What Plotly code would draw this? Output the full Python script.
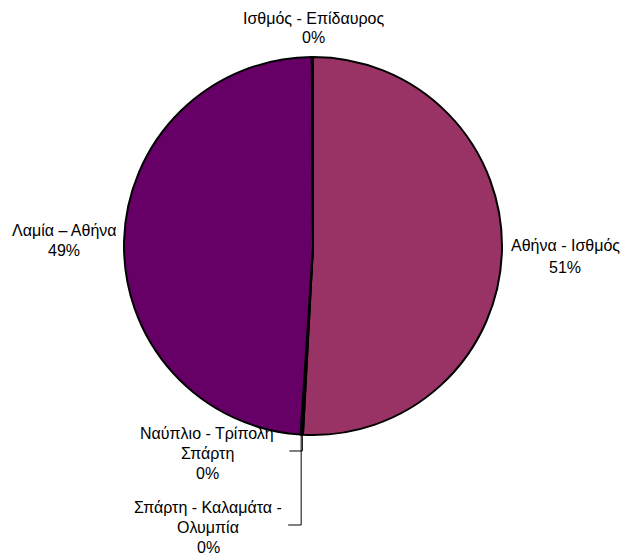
import math
import plotly.graph_objects as go

# ---- data ----
labels = ["Αθήνα - Ισθμός", "Ναύπλιο - Τρίπολη Σπάρτη", "Σπάρτη - Καλαμάτα - Ολυμπία",
          "Λαμία – Αθήνα", "Ισθμός - Επίδαυρος"]
values = [51.0, 0.1, 0.1, 49.0, 0.1]
colors = ["#993366", "#993366", "#993366", "#660066", "#993366"]
# how each label is broken into lines on the picture
label_lines = [["Αθήνα - Ισθμός"], ["Ναύπλιο - Τρίπολη", "Σπάρτη"],
               ["Σπάρτη - Καλαμάτα -", "Ολυμπία"], ["Λαμία – Αθήνα"], ["Ισθμός - Επίδαυρος"]]

W, H = 622, 560
# pie placement (pixels)
left, right, top, bottom = 124, 502, 57, 435
cx, cy = (left + right) / 2, (top + bottom) / 2
R = (right - left) / 2

def px(x):
    return x / W

def py(y):
    return 1 - y / H

fig = go.Figure(go.Pie(
    labels=labels, values=values, sort=False, direction="clockwise", rotation=0,
    marker=dict(colors=colors, line=dict(color="black", width=2)),
    textinfo="none", hoverinfo="label+percent", showlegend=False,
    domain=dict(x=[px(left), px(right)], y=[py(bottom), py(top)]),
))

total = sum(values)
pcts = [f"{round(v / total * 100):.0f}%" for v in values]

# label anchor positions (pixel centre x, first line y) and line spacing
label_pos = [(565, 245), (207, 433), (208, 507), (64, 230), (313, 18)]
line_gap = [22, 20, 20, 21, 20]

ann = []
for i, (lines, (x0, y0)) in enumerate(zip(label_lines, label_pos)):
    all_lines = lines + [pcts[i]]
    for k, t in enumerate(all_lines):
        ann.append(dict(text=t, x=px(x0), y=py(y0 + k * line_gap[i]), xref="paper", yref="paper",
                        showarrow=False, xanchor="center", yanchor="middle",
                        font=dict(family="Liberation Sans, Arial", size=16, color="black")))

# leader lines for the two small slices at the bottom
shapes = []
cum = 0
mids = []
for v in values:
    mids.append((cum + v / 2) / total * 2 * math.pi)
    cum += v
tick_y = {1: 451, 2: 525}
for i, ty in tick_y.items():
    th = mids[i]
    sx = cx + R * math.sin(th)
    sy = cy - R * math.cos(th)
    lx = sx - 13
    shapes.append(dict(type="path", xref="paper", yref="paper",
                       path=f"M {px(sx)} {py(sy)} L {px(sx)} {py(ty)} L {px(lx)} {py(ty)}",
                       line=dict(color="black", width=1)))

fig.update_layout(width=W, height=H, margin=dict(l=0, r=0, t=0, b=0),
                  paper_bgcolor="white", plot_bgcolor="white",
                  annotations=ann, shapes=shapes)
fig.write_html("out.html", config={"responsive": False, "displayModeBar": False},
               post_script="document.body.style.margin='0';document.body.style.overflow='hidden';")
